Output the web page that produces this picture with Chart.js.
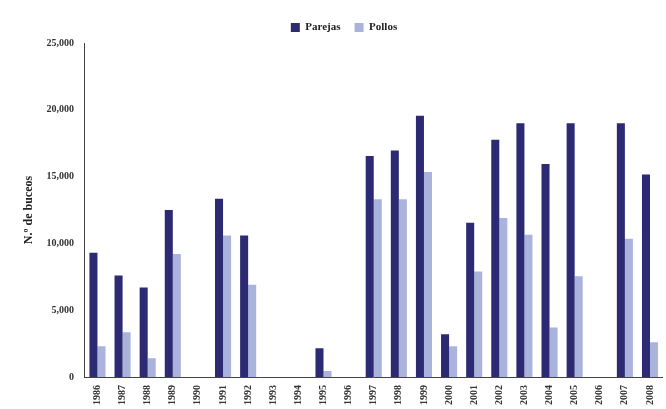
<!DOCTYPE html>
<html>
<head>
<meta charset="utf-8">
<script src="https://cdn.jsdelivr.net/npm/chart.js@4"></script>
<style>
    html, body { margin: 0; padding: 0; background: #fff; }
    #wrap { width: 666px; height: 409px; }
</style>
</head>
<body>
<div id="wrap"><canvas id="chart"></canvas></div>
<script>
const years = ['1986', '1987', '1988', '1989', '1990', '1991', '1992', '1993', '1994', '1995', '1996', '1997',
    '1998', '1999', '2000', '2001', '2002', '2003', '2004', '2005', '2006', '2007', '2008'];
const parejas = [9300, 7600, 6700, 12500, 0, 13350, 10600, 0, 0, 2150, 0, 16550,
    16950, 19550, 3200, 11550, 17750, 19000, 15950, 19000, 0, 19000, 15150];
const pollos = [2300, 3350, 1400, 9200, 0, 10600, 6900, 0, 0, 450, 0, 13300,
    13300, 15350, 2300, 7900, 11900, 10650, 3700, 7550, 0, 10350, 2600];
const yTicks = [0, 5000, 10000, 15000, 20000, 25000];

const font = { family: 'Liberation Serif', weight: 'bold', size: 10 };

new Chart(document.getElementById('chart').getContext('2d'), {
    type: 'bar',
    data: {
        labels: years,
        datasets: [
            {
                label: 'Parejas',
                data: parejas,
                backgroundColor: '#2c2a72',
                borderWidth: 0,
                categoryPercentage: 0.64,
                barPercentage: 1.0,
            },
            {
                label: 'Pollos',
                data: pollos,
                backgroundColor: '#a9b3dc',
                borderWidth: 0,
                categoryPercentage: 0.64,
                barPercentage: 1.0,
            }
        ]
    },
    options: {
        responsive: true,
        maintainAspectRatio: false,
        animation: false,
        layout: { padding: { left: 22, right: 0, top: 8, bottom: 0 } },
        plugins: {
            legend: {
                position: 'top',
                labels: {
                    font: { family: 'Liberation Serif', weight: 'bold', size: 11 },
                    color: '#222',
                    boxWidth: 9,
                    boxHeight: 9,
                    padding: 14,
                }
            },
            tooltip: { enabled: false }
        },
        scales: {
            x: {
                offset: true,
                grid: { display: false, drawTicks: true, tickLength: 4, color: '#444' },
                border: { color: '#444', width: 1 },
                ticks: {
                    font: { family: 'Liberation Serif', weight: 'bold', size: 10 },
                    color: '#333',
                    maxRotation: 90,
                    minRotation: 90,
                    autoSkip: false,
                    padding: 4,
                }
            },
            y: {
                min: 0,
                max: 25000,
                afterBuildTicks: (axis) => { axis.ticks = yTicks.map(v => ({ value: v })); },
                grid: { display: false, drawTicks: true, tickLength: 5, color: '#444' },
                border: { color: '#444', width: 1 },
                ticks: {
                    font: font,
                    color: '#333',
                    padding: 6,
                    callback: (v) => v.toLocaleString('en-US'),
                },
                title: {
                    display: true,
                    text: 'N.º de buceos',
                    font: { family: 'Liberation Serif', weight: 'bold', size: 12 },
                    color: '#222',
                    padding: { top: 0, bottom: 4 },
                }
            }
        }
    }
});
</script>
</body>
</html>
